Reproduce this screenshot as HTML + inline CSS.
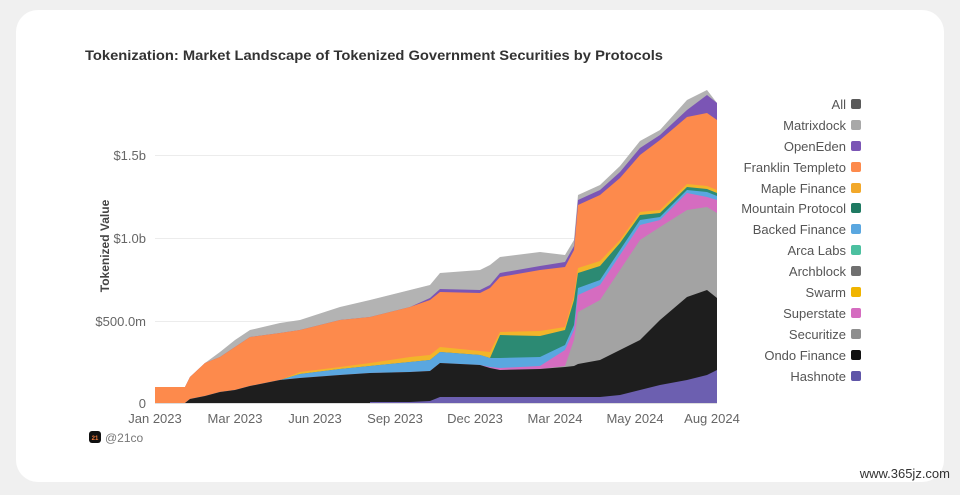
<!DOCTYPE html>
<html><head><meta charset="utf-8"><style>
html,body{margin:0;padding:0;background:#efefef;}
body{width:960px;height:490px;position:relative;overflow:hidden;font-family:"Liberation Sans",sans-serif;}
</style></head><body>
<svg width="960" height="490" viewBox="0 0 960 490" xmlns="http://www.w3.org/2000/svg" font-family="Liberation Sans, sans-serif">
<rect x="0" y="0" width="960" height="490" fill="#f0f0f0"/>
<rect x="16" y="10" width="928" height="472" rx="22" fill="#ffffff"/>
<text x="85" y="60" font-size="14" font-weight="bold" fill="#333" textLength="578" lengthAdjust="spacingAndGlyphs">Tokenization: Market Landscape of Tokenized Government Securities by Protocols</text>
<g stroke="#ececec" stroke-width="1">
<line x1="155" y1="155.5" x2="717" y2="155.5"/>
<line x1="155" y1="238.5" x2="717" y2="238.5"/>
<line x1="155" y1="321.5" x2="717" y2="321.5"/>
</g>
<g font-size="13" fill="#666" text-anchor="end">
<text x="146" y="160">$1.5b</text>
<text x="146" y="243">$1.0b</text>
<text x="146" y="326">$500.0m</text>
<text x="146" y="408">0</text>
</g>
<text transform="translate(109,246) rotate(-90)" font-size="12" font-weight="bold" fill="#444" text-anchor="middle">Tokenized Value</text>
<g>
<polygon fill="#b3b3b3" points="155,387 185,387 190,377 205,363 220,352 235,340 250,330 280,323 300,320 340,307 370,300 410,290 430,285 440,273 480,270 490,265 500,257 540,252 565,255 574,240 578,195 600,185 620,166 640,141 660,130 687,100 707,90 717,103 717,403 155,403"/>
<polygon fill="#7b55b5" points="155,387 185,387 190,377 205,363 220,357 235,347 250,337 280,333 300,330 340,320 370,317 410,307 430,298 440,289 480,290 490,285 500,273 540,266 565,262 574,246 578,200 600,190 620,172 640,148 660,135 687,110 707,95 717,103 717,403 155,403"/>
<polygon fill="#fd8a4c" points="155,387 185,387 190,377 205,363 220,357 235,347 250,337 280,333 300,330 340,320 370,317 410,307 430,300 440,292 480,293 490,288 500,277 540,270 565,267 574,250 578,205 600,195 620,178 640,155 660,140 687,117 707,113 717,120 717,403 155,403"/>
<polygon fill="#f2b52a" points="155,403 185,403 190,399 205,396 220,392 235,390 250,386 280,380 300,372 340,367 370,363 410,357 430,355 440,347 480,351 490,352 500,332 540,331 565,327 574,296 578,268 600,261 620,240 640,212 660,210 687,184 707,186 717,190 717,403 155,403"/>
<polygon fill="#2c8a73" points="155,403 185,403 190,399 205,396 220,392 235,390 250,386 280,380 300,374 340,369 370,366 410,362 430,360 440,352 480,355 490,358 500,335 540,336 565,330 574,300 578,273 600,266 620,243 640,215 660,213 687,187 707,189 717,193 717,403 155,403"/>
<polygon fill="#5aa7e0" points="155,403 185,403 190,399 205,396 220,392 235,390 250,386 280,380 300,374 340,369 370,366 410,362 430,360 440,352 480,355 490,358 500,358 540,357 565,345 574,325 578,288 600,280 620,250 640,220 660,217 687,190 707,192 717,196 717,403 155,403"/>
<polygon fill="#d56cc0" points="155,403 185,403 190,399 205,396 220,392 235,390 250,386 280,380 300,378 340,375 370,373 410,372 430,371 440,363 480,365 490,367 500,368 540,366 565,350 574,330 578,295 600,285 620,255 640,225 660,220 687,193 707,197 717,200 717,403 155,403"/>
<polygon fill="#a3a3a3" points="155,403 185,403 190,399 205,396 220,392 235,390 250,386 280,380 300,378 340,375 370,373 410,372 430,371 440,363 480,365 490,368 500,370 540,369 565,366 574,340 578,312 600,300 620,270 640,240 660,227 687,210 707,207 717,213 717,403 155,403"/>
<polygon fill="#1e1e1e" points="155,403 185,403 190,399 205,396 220,392 235,390 250,386 280,380 300,378 340,375 370,373 410,372 430,371 440,363 480,365 490,368 500,370 540,369 565,367 574,366 578,364 600,360 620,350 640,340 660,320 687,297 707,290 717,298 717,403 155,403"/>
<polygon fill="#6c5fb0" points="155,403 370,403 370,402 410,402 430,401 440,397 565,397 578,397 600,397 620,395 640,390 660,385 687,380 707,375 717,370 717,403 155,403"/>
</g>
<line x1="155" y1="403.5" x2="717" y2="403.5" stroke="#ddd"/>
<g font-size="13" fill="#666" text-anchor="middle">
<text x="155" y="423">Jan 2023</text>
<text x="235" y="423">Mar 2023</text>
<text x="315" y="423">Jun 2023</text>
<text x="395" y="423">Sep 2023</text>
<text x="475" y="423">Dec 2023</text>
<text x="555" y="423">Mar 2024</text>
<text x="635" y="423">May 2024</text>
<text x="712" y="423">Aug 2024</text>
</g>
<rect x="89" y="431" width="12" height="12" rx="3" fill="#111"/>
<text x="95" y="440" font-size="6" fill="#f07a3a" text-anchor="middle" font-weight="bold">21</text>
<text x="105" y="442" font-size="12" fill="#777">@21co</text>
<g font-size="13" fill="#555" text-anchor="end">
<text x="846" y="109">All</text>
<text x="846" y="130">Matrixdock</text>
<text x="846" y="151">OpenEden</text>
<text x="846" y="172">Franklin Templeto</text>
<text x="846" y="193">Maple Finance</text>
<text x="846" y="213">Mountain Protocol</text>
<text x="846" y="234">Backed Finance</text>
<text x="846" y="255">Arca Labs</text>
<text x="846" y="276">Archblock</text>
<text x="846" y="297">Swarm</text>
<text x="846" y="318">Superstate</text>
<text x="846" y="339">Securitize</text>
<text x="846" y="360">Ondo Finance</text>
<text x="846" y="381">Hashnote</text>
</g>
<g>
<rect x="851" y="99" width="10" height="10" rx="2" fill="#5a5a5a"/>
<rect x="851" y="120" width="10" height="10" rx="2" fill="#a8a8a8"/>
<rect x="851" y="141" width="10" height="10" rx="2" fill="#7b55b5"/>
<rect x="851" y="162" width="10" height="10" rx="2" fill="#fd8a4c"/>
<rect x="851" y="183" width="10" height="10" rx="2" fill="#f2a82a"/>
<rect x="851" y="203" width="10" height="10" rx="2" fill="#1f7a62"/>
<rect x="851" y="224" width="10" height="10" rx="2" fill="#5aa7e0"/>
<rect x="851" y="245" width="10" height="10" rx="2" fill="#4cc0a0"/>
<rect x="851" y="266" width="10" height="10" rx="2" fill="#707070"/>
<rect x="851" y="287" width="10" height="10" rx="2" fill="#f0b400"/>
<rect x="851" y="308" width="10" height="10" rx="2" fill="#d56cc0"/>
<rect x="851" y="329" width="10" height="10" rx="2" fill="#8e8e8e"/>
<rect x="851" y="350" width="10" height="10" rx="2" fill="#111"/>
<rect x="851" y="371" width="10" height="10" rx="2" fill="#5f55a8"/>
</g>
<text x="950" y="478" font-size="13" fill="#333" text-anchor="end">www.365jz.com</text>
</svg>
</body></html>
